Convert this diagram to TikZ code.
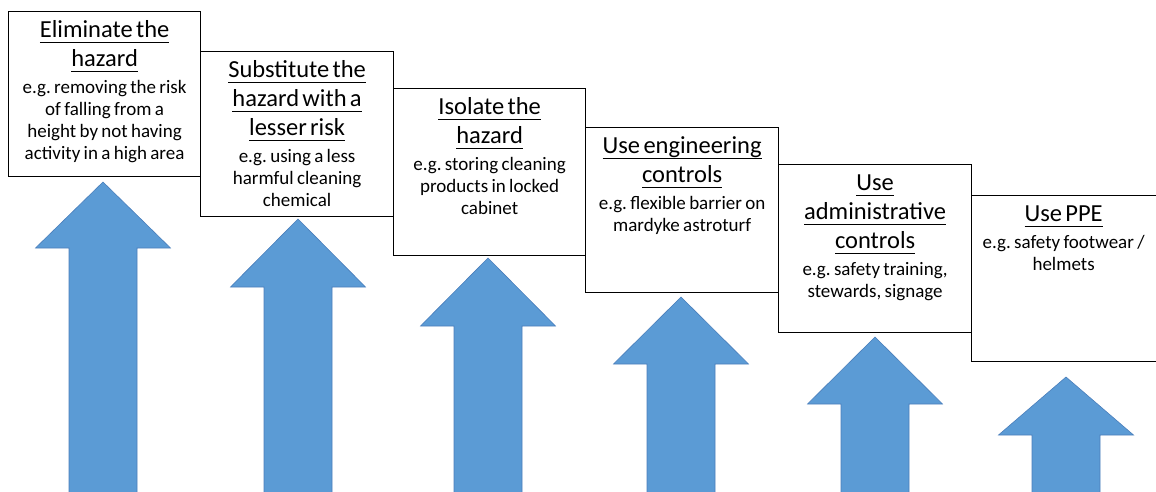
\documentclass[tikz,border=0pt]{standalone}
\usepackage{fontspec}
\setmainfont{Carlito}
\frenchspacing
\definecolor{arrowblue}{RGB}{91,155,213}
\definecolor{arrowedge}{RGB}{74,126,187}
\newcommand{\ttlfont}{\fontsize{24.5}{29}\selectfont}
\newcommand{\bdyfont}{\fontsize{19}{22}\selectfont}
\newcommand{\ulx}[1]{\leavevmode\setbox0\hbox{#1}\rlap{\rule[-6.2pt]{\wd0}{1.2pt}}\box0}
\newcommand{\stepcard}[2]{{\ttlfont\strut#1\par}\vspace{5pt}{\bdyfont#2\par}}
\begin{document}
\begin{tikzpicture}[x=1pt,y=-1pt,
  card/.style={draw=black, line width=1.2pt, fill=white, anchor=north west, inner sep=0pt},
  cardtext/.style={anchor=north, inner sep=0pt, text width=190pt, align=center, yshift=-5.5pt, font=\frenchspacing},
  bluearrow/.style={fill=arrowblue, draw=arrowedge, line width=0.6pt}]
\useasboundingbox (0,0) rectangle (1156,491);
\clip (0,0) rectangle (1156,491);
% arrows
\foreach \x/\t/\b in {103/182/248, 298/219/287, 488/258/326, 681/297/364, 875/337/404, 1066/377/435}
  \draw[bluearrow] (\x,\t) -- (\x+67.5,\b) -- (\x+34,\b) -- (\x+34,496) -- (\x-34,496) -- (\x-34,\b) -- (\x-67.5,\b) -- cycle;
% boxes
\node[card, minimum width=192pt, minimum height=165pt] (b1) at (8,11) {};
\node[card, minimum width=193pt, minimum height=165pt] (b2) at (200,51) {};
\node[card, minimum width=192pt, minimum height=167pt] (b3) at (393,88) {};
\node[card, minimum width=193pt, minimum height=165pt] (b4) at (585,127) {};
\node[card, minimum width=193pt, minimum height=168pt] (b5) at (778,164) {};
\node[card, minimum width=194pt, minimum height=166pt] (b6) at (971,195) {};
% texts
\node[cardtext] (t1) at (b1.north) {\stepcard{\ulx{Eliminate the}\\\ulx{hazard}}{e.g. removing the risk\\of falling from a\\height by not having\\activity in a high area}};
\node[cardtext] (t2) at (b2.north) {\stepcard{\ulx{Substitute the}\\\ulx{hazard with a}\\\ulx{lesser risk}}{e.g. using a less\\harmful cleaning\\chemical}};
\node[cardtext] (t3) at (b3.north) {\stepcard{\ulx{Isolate the}\\\ulx{hazard}}{e.g. storing cleaning\\products in locked\\cabinet}};
\node[cardtext] (t4) at (b4.north) {\stepcard{\ulx{Use engineering}\\\ulx{controls}}{e.g. flexible barrier on\\mardyke astroturf}};
\node[cardtext] (t5) at (b5.north) {\stepcard{\ulx{Use}\\\ulx{administrative}\\\ulx{controls}}{e.g. safety training,\\stewards, signage}};
\node[cardtext, text width=185pt, xshift=-5pt] (t6) at (b6.north) {\stepcard{\ulx{Use PPE}}{e.g. safety footwear /\\helmets}};
\end{tikzpicture}
\end{document}
